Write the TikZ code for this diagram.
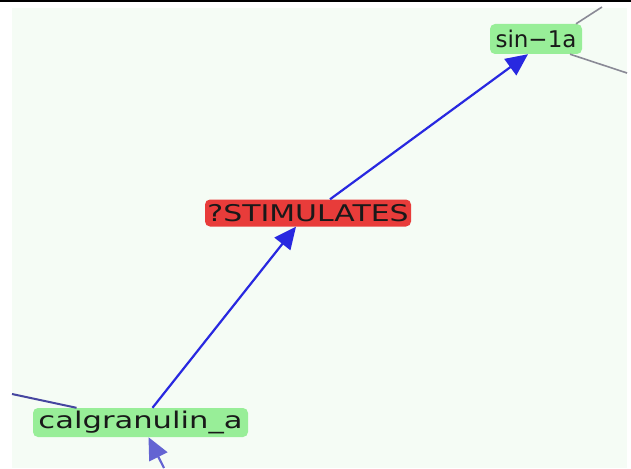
\documentclass[tikz,border=0pt]{standalone}
\usepackage{fontspec}
\setmainfont{DejaVu Sans}
\usetikzlibrary{arrows.meta}
\definecolor{bgpale}{HTML}{F5FCF5}
\definecolor{nodegreen}{HTML}{98EE98}
\definecolor{nodered}{HTML}{E83C3A}
\definecolor{edgeblue}{HTML}{2828E0}
\definecolor{edgelight}{HTML}{6464D2}
\definecolor{edgedark}{HTML}{4646A0}
\definecolor{edgegray}{HTML}{8A8A96}
\tikzset{
  gnode/.style={fill=nodegreen, rounded corners=5pt, inner sep=0pt, font=\fontsize{23}{23}\selectfont, text=black!90},
  rnode/.style={fill=nodered, rounded corners=5pt, inner sep=0pt, font=\fontsize{23}{23}\selectfont, text=black!90},
  edge/.style={draw=edgeblue, line width=2.2pt, -{Triangle[length=22pt,width=20pt]}},
  edgel/.style={draw=edgelight, line width=2.2pt, -{Triangle[length=22pt,width=20pt]}},
  edged/.style={draw=edgedark, line width=2pt},
  edgeg/.style={draw=edgegray, line width=1.6pt}
}
\begin{document}
\begin{tikzpicture}[x=1pt,y=-1pt]
\fill[white] (0,0) rectangle (631,468);
\useasboundingbox (0,0) rectangle (631,468);
\fill[bgpale] (12,8) rectangle (627,468);
\draw[black, line width=2pt] (0,1.5) -- (631,1.5);
\coordinate (g1) at (602,7);
\coordinate (g2) at (627,73);
\coordinate (l1) at (12,394);
\coordinate (b1) at (164,468);
\node[gnode, minimum width=92pt, minimum height=30pt] (sin) at (536,39) {\scalebox{1.0}[1]{sin\textminus1a}};
\node[rnode, minimum width=206pt, minimum height=27pt] (stim) at (308,213) {\scalebox{1.3}[1]{?STIMULATES}};
\node[gnode, minimum width=215pt, minimum height=29pt] (cal) at (140.5,422.5) {\scalebox{1.33}[1]{calgranulin\_a}};
\draw[edgeg] ([xshift=40pt]sin.north) -- (g1);
\draw[edgeg] ([xshift=34pt]sin.south) -- (g2);
\draw[edge] ([xshift=22pt]stim.north) -- ([xshift=-8pt]sin.south);
\draw[edge] ([xshift=12pt]cal.north) -- ([xshift=-12pt]stim.south);
\draw[edgel] (b1) -- ([xshift=8pt]cal.south);
\draw[edged] (l1) -- ([xshift=-64pt]cal.north);
\end{tikzpicture}
\end{document}
